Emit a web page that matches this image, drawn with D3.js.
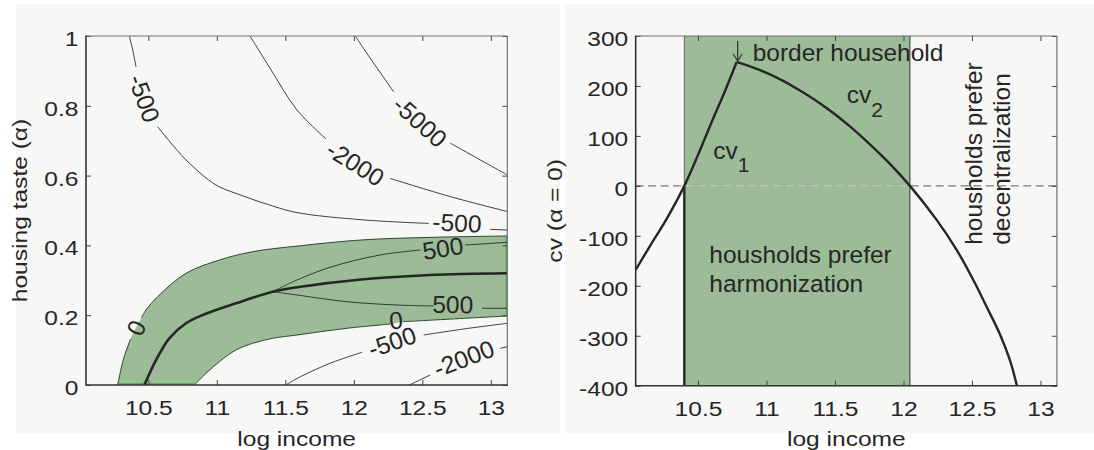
<!DOCTYPE html>
<html><head><meta charset="utf-8">
<script src="https://cdn.jsdelivr.net/npm/d3@7"></script>
<style>
html,body{margin:0;padding:0;background:#fff;}
svg{display:block;font-family:"Liberation Sans",Arial,sans-serif;}
</style></head><body>
<svg id="chart" width="1094" height="450"></svg>
<script>
// ---------------- DATA ----------------
const xTicks = [10.5, 11, 11.5, 12, 12.5, 13];
const alphaTicks = [0, 0.2, 0.4, 0.6, 0.8, 1];
const cvTicks = [-400, -300, -200, -100, 0, 100, 200, 300];
const xDomain = [10.045, 13.12];

// left panel: zero contours bounding the green band (split at label gaps)
const zeroUpperA = [[10.276,0],[10.317,0.072],[10.370,0.132]];
const zeroUpperB = [[10.450,0.193],[10.483,0.215],[10.568,0.253],[10.775,0.320],[11.018,0.358],[11.262,0.382],[11.585,0.398],[12.072,0.416],[12.558,0.423],[13.12,0.427]];
const zeroLowerA = [[10.836,0],[10.921,0.0335],[11.018,0.0668],[11.140,0.1003],[11.262,0.1195],[11.408,0.1338],[11.585,0.1433],[11.950,0.1625],[12.266,0.1748]];
const zeroLowerB = [[12.359,0.1814],[12.680,0.1883],[13.12,0.1977]];
// border household line (thick)
const borderLine = [[10.471,0],[10.556,0.0716],[10.653,0.1338],[10.775,0.1768],[10.897,0.2006],[11.140,0.2341],[11.408,0.2673],[11.585,0.2799],[12.072,0.3029],[12.558,0.3152],[13.12,0.3201]];
// +500 contours
const c500UpA = [[11.408,0.2673],[11.585,0.3009],[11.826,0.3372],[12.191,0.3725],[12.485,0.3868]];
const c500UpB = [[12.814,0.4011],[13.12,0.4089]];
const c500LoA = [[11.408,0.2673],[11.585,0.2579],[11.950,0.2387],[12.315,0.2292],[12.583,0.2264]];
const c500LoB = [[12.936,0.2198],[13.12,0.2198]];
// -500 contour above
const cm500UpA = [[10.361,1.0],[10.386,0.960],[10.410,0.912]];
const cm500UpB = [[10.568,0.740],[10.775,0.645],[10.994,0.573],[11.140,0.549],[11.383,0.516],[11.585,0.494],[12.072,0.473],[12.546,0.463]];
const cm500UpC = [[12.996,0.446],[13.12,0.444]];
// -2000 contour above
const cm2000UpA = [[11.242,1.0],[11.388,0.908],[11.585,0.788],[11.797,0.705]];
const cm2000UpB = [[12.264,0.592],[12.702,0.540],[13.12,0.497]];
// -5000 contour
const cm5000A = [[12.011,1.0],[12.070,0.965],[12.145,0.922],[12.291,0.840]];
const cm5000B = [[12.704,0.693],[12.923,0.645],[13.12,0.602]];
// -500 contour below
const cm500LoA = [[11.503,0],[11.585,0.0186],[11.826,0.0622],[12.060,0.0937]];
const cm500LoB = [[12.510,0.1433],[12.802,0.1605],[13.12,0.1768]];
// -2000 contour below
const cm2000LoA = [[12.405,0],[12.558,0.0287]];
const cm2000LoB = [[13.069,0.1052],[13.12,0.1097]];

// contour labels: [text, log income, alpha]
const contourLabels = [
  ["-500", 10.471, 0.8215],
  ["-2000", 12.012, 0.635],
  ["-5000", 12.483, 0.7544],
  ["-500", 12.753, 0.465],
  ["500", 12.649, 0.392],
  ["500", 12.722, 0.231],
  ["0", 12.308, 0.186],
  ["-500", 12.279, 0.124],
  ["-2000", 12.802, 0.0765],
  ["0", 10.410, 0.164]
];
const labelAngles = [70, 32, 42, 3, -9, 1, -5, -19, -21, -65];

// right panel
const cv1 = [[10.045,-168],[10.15,-120],[10.271,-66],[10.4,0],[10.5,62],[10.6,128],[10.7,192],[10.782,248]];
const cv2 = [[10.782,248],[11.001,226],[11.244,191],[11.463,151],[11.609,119],[11.755,83],[11.901,44],[12.047,0],[12.242,-68],[12.388,-128],[12.509,-188],[12.607,-242],[12.704,-297],[12.777,-349],[12.828,-400]];
const cvJump = [[10.4,0],[10.4,-400]];
const harmonStart = 10.4, harmonEnd = 12.047;
const peak = [10.782, 248];

// ---------------- LAYOUT ----------------
const svg = d3.select("#chart");
const TXT = "#262626";
const SX = 1.17;
const L = {x0:86, x1:507.3, y0:36, y1:385};
const R = {x0:635.7, x1:1056.9, y0:36, y1:385.7};

svg.append("rect").attr("x",16).attr("y",4).attr("width",544).attr("height",429).attr("fill","#f7f7f5");
svg.append("rect").attr("x",565).attr("y",4).attr("width",529).attr("height",429).attr("fill","#f7f7f5");

const xL = d3.scaleLinear().domain(xDomain).range([L.x0, L.x1]);
const yL = d3.scaleLinear().domain([0,1]).range([L.y1, L.y0]);
const xR = d3.scaleLinear().domain(xDomain).range([R.x0, R.x1]);
const yR = d3.scaleLinear().domain([-400,300]).range([R.y1, R.y0]);

const defs = svg.append("defs");
defs.append("clipPath").attr("id","clipL").append("rect").attr("x",L.x0).attr("y",L.y0).attr("width",L.x1-L.x0).attr("height",L.y1-L.y0);
defs.append("clipPath").attr("id","clipR").append("rect").attr("x",R.x0).attr("y",R.y0).attr("width",R.x1-R.x0).attr("height",R.y1-R.y0);

// ---------------- LEFT PANEL ----------------
const gL = svg.append("g");
const pL = gL.append("g").attr("clip-path","url(#clipL)");
const lineL = d3.line().x(d=>xL(d[0])).y(d=>yL(d[1])).curve(d3.curveCatmullRom.alpha(0.5));

const upperFull = zeroUpperA.concat(zeroUpperB);
const lowerFull = zeroLowerA.concat(zeroLowerB);
const pUp = lineL(upperFull);
const pLo = lineL(lowerFull.slice().reverse());
pL.append("path").attr("d", pUp + "L" + pLo.slice(1) + "Z").attr("fill","#9cbb97").attr("stroke","none");

// bright edge artefacts of the filled band
pL.append("line").attr("x1",xL(zeroUpperA[0][0])).attr("x2",xL(zeroLowerA[0][0])).attr("y1",yL(0)-1.2).attr("y2",yL(0)-1.2).attr("stroke","#3dae4a").attr("stroke-width",1.2);
pL.append("line").attr("x1",xL(13.12)-1).attr("x2",xL(13.12)-1).attr("y1",yL(0.427)).attr("y2",yL(0.1977)).attr("stroke","#3dae4a").attr("stroke-width",1.2);

[zeroUpperA, zeroUpperB, zeroLowerA, zeroLowerB].forEach(s=>{
  pL.append("path").attr("d", lineL(s)).attr("fill","none").attr("stroke","#2e4634").attr("stroke-width",1);
});
[c500UpA,c500UpB,c500LoA,c500LoB,cm500UpA,cm500UpB,cm500UpC,cm2000UpA,cm2000UpB,cm5000A,cm5000B,cm500LoA,cm500LoB,cm2000LoA,cm2000LoB].forEach(s=>{
  pL.append("path").attr("d", lineL(s)).attr("fill","none").attr("stroke","#2a2a2a").attr("stroke-width",0.9);
});
pL.append("path").attr("d", lineL(borderLine)).attr("fill","none").attr("stroke","#262626").attr("stroke-width",2.6);

gL.selectAll("text.clab").data(contourLabels).join("text").attr("class","clab")
  .attr("transform",(d,i)=>`translate(${xL(d[1])},${yL(d[2])}) rotate(${labelAngles[i]})`)
  .attr("text-anchor","middle").attr("dy","0.36em")
  .attr("font-size",24.5).attr("fill",TXT).text(d=>d[0]);

// ---------------- RIGHT PANEL ----------------
const gR = svg.append("g");
const pR = gR.append("g").attr("clip-path","url(#clipR)");
const lineR = d3.line().x(d=>xR(d[0])).y(d=>yR(d[1])).curve(d3.curveCatmullRom.alpha(0.5));

pR.append("rect").attr("x",xR(harmonStart)).attr("y",R.y0).attr("width",xR(harmonEnd)-xR(harmonStart)).attr("height",R.y1-R.y0).attr("fill","#9cbb97");
defs.append("clipPath").attr("id","clipG").append("rect").attr("x",xR(harmonStart)).attr("y",R.y0).attr("width",xR(harmonEnd)-xR(harmonStart)).attr("height",R.y1-R.y0);

pR.append("line").attr("x1",R.x0).attr("x2",R.x1).attr("y1",yR(0)).attr("y2",yR(0)).attr("stroke","#7a7a7a").attr("stroke-width",1.2).attr("stroke-dasharray","8,4.5");
gR.append("line").attr("clip-path","url(#clipG)").attr("x1",R.x0).attr("x2",R.x1).attr("y1",yR(0)).attr("y2",yR(0)).attr("stroke","#d2d6d0").attr("stroke-width",1.2).attr("stroke-dasharray","8,4.5");

pR.append("line").attr("x1",xR(harmonStart)).attr("x2",xR(harmonStart)).attr("y1",R.y0).attr("y2",yR(0)).attr("stroke","#6a6a6a").attr("stroke-width",1);
pR.append("line").attr("x1",xR(harmonEnd)).attr("x2",xR(harmonEnd)).attr("y1",R.y0).attr("y2",R.y1).attr("stroke","#333").attr("stroke-width",1);

[cv1, cv2, cvJump].forEach(s=>{
  pR.append("path").attr("d", lineR(s)).attr("fill","none").attr("stroke","#262626").attr("stroke-width",2.4).attr("stroke-linejoin","round");
});

// annotations
const ann = gR.append("g").attr("fill",TXT).attr("font-size",24.5);
const px = xR(peak[0]) + 1, py = yR(peak[1]) - 1;
gR.append("path").attr("d",`M${px},${py-20}V${py}M${px-4.5},${py-7}L${px},${py}L${px+4.5},${py-7}`)
  .attr("fill","none").attr("stroke","#333").attr("stroke-width",1.2);
ann.append("text").attr("x",px+15).attr("y",yR(250)).text("border household");
const t1 = ann.append("text").attr("x",xR(10.611)).attr("y",yR(53));
t1.append("tspan").text("cv");
t1.append("tspan").attr("dy",12.4).attr("font-size",21).text("1");
const t2 = ann.append("text").attr("x",xR(11.585)).attr("y",yR(165));
t2.append("tspan").text("cv");
t2.append("tspan").attr("dy",13.4).attr("font-size",21).text("2");
ann.append("text").attr("x",xR(10.582)).attr("y",yR(-155)).text("housholds prefer");
ann.append("text").attr("x",xR(10.582)).attr("y",yR(-212)).text("harmonization");
ann.append("text").attr("transform",`translate(${xR(12.571)},${yR(-118)}) rotate(-90)`).text("housholds prefer");
ann.append("text").attr("transform",`translate(${xR(12.778)},${yR(-118)}) rotate(-90)`).text("decentralization");

// ---------------- AXES ----------------
function drawAxes(g, x, y, box, yt, xlab, ylab, ylabX){
  const fmt = d=>String(d);
  const b = g.append("g").attr("transform",`translate(0,${box.y1})`)
    .call(d3.axisBottom(x).tickValues(xTicks).tickSize(-5).tickSizeOuter(0).tickFormat(fmt));
  const t = g.append("g").attr("transform",`translate(0,${box.y0})`)
    .call(d3.axisTop(x).tickValues(xTicks).tickSize(-5).tickSizeOuter(0).tickFormat(""));
  const l = g.append("g").attr("transform",`translate(${box.x0},0)`)
    .call(d3.axisLeft(y).tickValues(yt).tickSize(-5).tickSizeOuter(0).tickFormat(fmt));
  const r = g.append("g").attr("transform",`translate(${box.x1},0)`)
    .call(d3.axisRight(y).tickValues(yt).tickSize(-5).tickSizeOuter(0).tickFormat(""));
  [b,t,l,r].forEach(a=>{
    a.select(".domain").remove();
    a.attr("font-family",null).attr("font-size",null);
    a.selectAll(".tick line").attr("stroke","#444").attr("stroke-width",1);
  });
  b.selectAll("text").attr("y",30).attr("dy",null).attr("transform",`scale(${SX},1)`).attr("font-size",21).attr("fill",TXT);
  l.selectAll("text").attr("x",-7.5/SX).attr("y",9.5).attr("dy",null).attr("transform",`scale(${SX},1)`).attr("font-size",21).attr("fill",TXT);
  // box
  g.append("line").attr("x1",box.x0).attr("x2",box.x1).attr("y1",box.y0).attr("y2",box.y0).attr("stroke","#707070").attr("stroke-width",1.2);
  g.append("line").attr("x1",box.x1).attr("x2",box.x1).attr("y1",box.y0).attr("y2",box.y1).attr("stroke","#707070").attr("stroke-width",1.2);
  g.append("line").attr("x1",box.x0).attr("x2",box.x1+0.6).attr("y1",box.y1).attr("y2",box.y1).attr("stroke","#333").attr("stroke-width",1.6);
  g.append("line").attr("x1",box.x0).attr("x2",box.x0).attr("y1",box.y0-0.6).attr("y2",box.y1+0.8).attr("stroke","#333").attr("stroke-width",1.6);
  // labels
  g.append("text").attr("transform",`translate(${(box.x0+box.x1)/2},445.5) scale(${SX},1)`)
    .attr("text-anchor","middle").attr("font-size",21).attr("fill",TXT).text(xlab);
  g.append("text").attr("transform",`translate(${ylabX},${(box.y0+box.y1)/2}) rotate(-90) scale(${SX},1)`)
    .attr("text-anchor","middle").attr("font-size",21).attr("fill",TXT).text(ylab);
}
drawAxes(gL, xL, yL, L, alphaTicks, "log income", "housing taste (\u03b1)", 26.7);
drawAxes(gR, xR, yR, R, cvTicks, "log income", "cv (\u03b1 = 0)", 562);
</script>
</body></html>
